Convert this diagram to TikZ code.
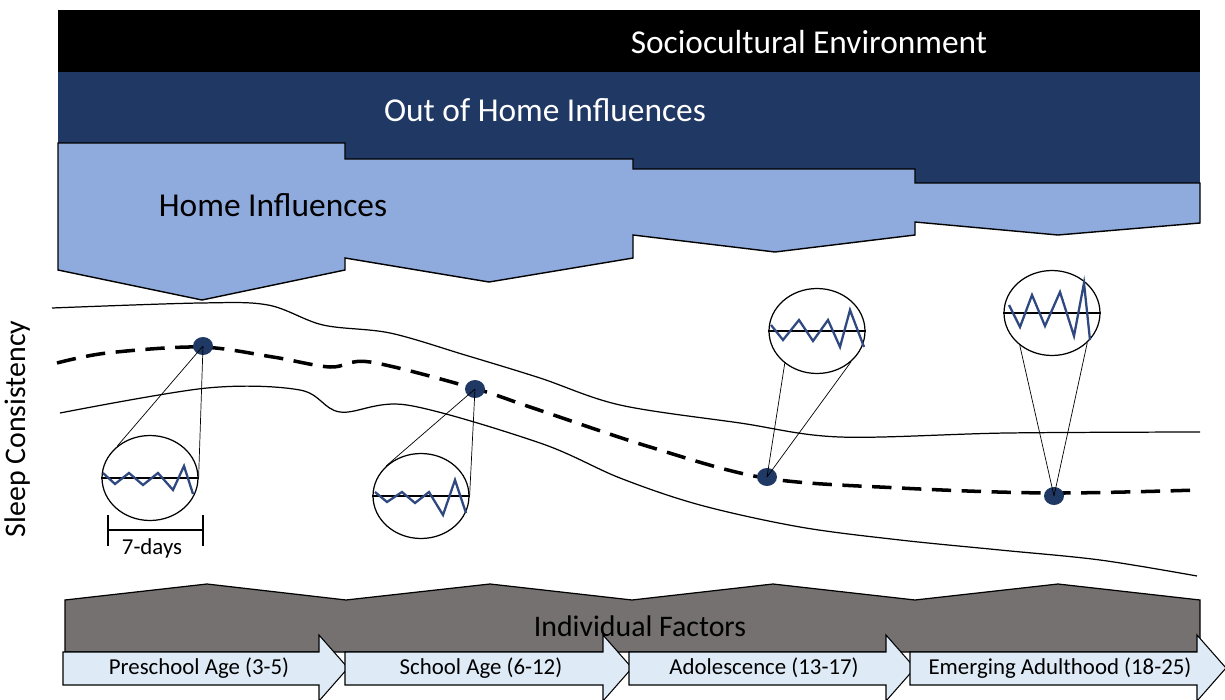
\documentclass[tikz,border=0pt]{standalone}
\usepackage{fontspec}
\setmainfont{Carlito}
\usetikzlibrary{shapes.geometric}
\definecolor{OutHome}{RGB}{32,56,100}
\definecolor{HomeBlue}{RGB}{143,170,220}
\definecolor{IndivGray}{RGB}{118,113,113}
\definecolor{AgeBlue}{RGB}{222,235,247}
\definecolor{TraceBlue}{RGB}{47,72,128}
\definecolor{DotNavy}{RGB}{31,56,100}
\tikzset{
  bandtext/.style={font=\fontsize{19}{22}\selectfont},
  agetext/.style={font=\fontsize{13}{15}\selectfont},
  zoombox/.style={ellipse, draw, fill=white, minimum width=1.92cm, minimum height=1.7cm, inner sep=0pt, line width=0.7pt},
  sleepdot/.style={ellipse, fill=DotNavy, minimum width=0.4cm, minimum height=0.36cm, inner sep=0pt},
  trace/.style={TraceBlue, line width=1.3pt},
  ageband/.style={draw, fill=AgeBlue, line width=0.6pt},
}

\begin{document}
\begin{tikzpicture}[x=0.02cm, y=-0.02cm]
\useasboundingbox (0,0) rectangle (1225,700);
\fill[black] (58,10) rectangle (1200,72);
\fill[OutHome] (58,72) rectangle (1200,183);
\filldraw[fill=HomeBlue, line width=0.8pt] (58,143) -- (345,143) -- (345,159) -- (633,159) -- (633,169) -- (915,169) -- (915,183) -- (1200,183) -- (1200,223) -- (1058,235) -- (915,222) -- (915,235) -- (775,252) -- (633,235) -- (633,258) -- (489,282) -- (345,258) -- (345,270) -- (202,300) -- (58,270) -- cycle;
\node[bandtext, white] (socio) at (809,42) {Sociocultural Environment};
\node[bandtext, white] (outhome) at (545,110) {Out of Home Influences};
\node[bandtext] (home) at (273,205) {Home Influences};

\draw[line width=0.7pt] plot[smooth, tension=0.55] coordinates {(52,308) (200,303) (268,305) (323,325) (390,333) (465,355) (540,378) (620,405) (740,423) (840,437) (1007,433) (1200,432)};
\draw[line width=0.7pt] plot[smooth, tension=0.55] coordinates {(60,413) (207,388) (300,390) (340,412) (407,405) (540,443) (620,478) (700,505) (800,527) (900,540) (1000,550) (1100,560) (1197,576)};
\draw[line width=2pt, dash pattern=on 11pt off 6pt] plot[smooth, tension=0.55] coordinates {(57,363) (107,353) (200,347) (273,357) (330,367) (370,362) (473,388) (533,408) (650,447) (765,478) (900,488) (1050,493) (1198,490)};

\node[sleepdot] (d1) at (203,346) {};
\node[sleepdot] (d2) at (475,389) {};
\node[sleepdot] (d3) at (767,477) {};
\node[sleepdot] (d4) at (1054,496) {};
\node[zoombox] (z1) at (150,478) {};
\node[zoombox] (z2) at (421,496) {};
\node[zoombox] (z3) at (817,331) {};
\node[zoombox] (z4) at (1052,313) {};
\draw (d1.center) -- (z1.136) (d1.center) -- (z1.east);
\draw (d2.center) -- (z2.139) (d2.center) -- (z2.east);
\draw (d3.center) -- (z3.225) (d3.center) -- (z3.-42);
\draw (d4.center) -- (z4.225) (d4.center) -- (z4.-40);
\foreach \z in {z1,z2,z3,z4}
  \draw[line width=1.2pt] (\z.west) -- (\z.east);
\draw[trace, shift={(z1.center)}] (-47,-5) -- (-35,6) -- (-21,-5) -- (-7,7) -- (8,-5) -- (23,12) -- (34,-12) -- (43,16);
\draw[trace, shift={(z2.center)}] (-46,-4) -- (-34,6) -- (-19,-4) -- (-6,7) -- (8,-4) -- (22,19) -- (34,-16) -- (45,17);
\draw[trace, shift={(z3.center)}] (-46,-6) -- (-34,9) -- (-18,-11) -- (-4,10) -- (11,-11) -- (23,16) -- (33,-21) -- (47,16);
\draw[trace, shift={(z4.center)}] (-43,-8) -- (-32,14) -- (-20,-18) -- (-7,13) -- (8,-21) -- (22,23) -- (32,-30) -- (38,27);

\draw[line width=0.8pt] (108,515) -- (108,546) (203,515) -- (203,546) (108,530) -- (203,530);
\node[agetext] (week) at (152,548) {7-days};
\node[rotate=90, font=\fontsize{17}{20}\selectfont] (sleep) at (18,429) {Sleep Consistency};

\filldraw[fill=IndivGray, line width=0.7pt] (65,600) -- (207,584) -- (346,600) -- (490,584) -- (632,600) -- (773,584) -- (915,600) -- (1058,584) -- (1200,600) -- (1200,652) -- (65,652) -- cycle;
\node[font=\fontsize{17}{20}\selectfont] (indiv) at (640,626) {Individual Factors};
\foreach \xs/\xb/\xl/\lab [count=\i] in {63/319/199/Preschool Age (3-5), 345/603/481/School Age (6-12), 629/886/764/Adolescence (13-17), 910/1197/1060/Emerging Adulthood (18-25)} {
  \draw[ageband] (\xs,652) -- (\xb,652) -- (\xb,635) -- ({\xb+29},668) -- (\xb,701) -- (\xb,685) -- (\xs,685) -- cycle;
  \node[agetext] (age\i) at (\xl,668) {\lab};
}
\end{tikzpicture}
\end{document}
